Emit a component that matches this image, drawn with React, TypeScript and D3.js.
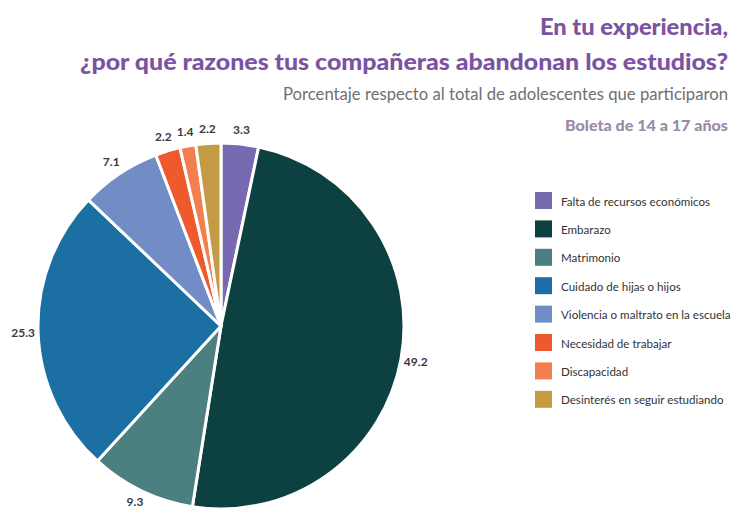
import { useEffect, useRef } from 'react'
import { select, pie, arc, PieArcDatum } from 'd3'

const categories = [
  'Falta de recursos económicos',
  'Embarazo',
  'Matrimonio',
  'Cuidado de hijas o hijos',
  'Violencia o maltrato en la escuela',
  'Necesidad de trabajar',
  'Discapacidad',
  'Desinterés en seguir estudiando',
]
const values = [3.3, 49.2, 9.3, 25.3, 7.1, 2.2, 1.4, 2.2]
const colors = ['#776ab0', '#0d4040', '#4c8080', '#1b6fa3', '#728dc6', '#ee5a2e', '#f47f4e', '#c59a45']

const titleLines = ['En tu experiencia,', '¿por qué razones tus compañeras abandonan los estudios?']
const subtitle = 'Porcentaje respecto al total de adolescentes que participaron'
const groupLabel = 'Boleta de 14 a 17 años'

interface Slice {
  name: string
  value: number
  color: string
}

const App = () => {
  const svgRef = useRef(null)

  useEffect(() => {
    const width = 738
    const height = 510
    const cx = 221
    const cy = 326
    const radius = 183
    const labelRadius = 198

    const svg = select(svgRef.current)
    svg.selectAll('*').remove()
    svg.attr('width', width).attr('height', height).attr('viewBox', [0, 0, width, height])

    const data: Slice[] = categories.map((name, i) => ({ name, value: values[i], color: colors[i] }))

    // pie starts at 12 o'clock and goes clockwise, in data order
    const layout = pie<Slice>().value((d) => d.value).sort(null)
    const arcs = layout(data)
    const arcGen = arc<PieArcDatum<Slice>>().innerRadius(0).outerRadius(radius)
    const labelArc = arc<PieArcDatum<Slice>>().innerRadius(labelRadius).outerRadius(labelRadius)

    const g = svg.append('g').attr('transform', `translate(${cx},${cy})`)
    g.selectAll('path')
      .data(arcs)
      .join('path')
      .attr('d', arcGen)
      .attr('fill', (d) => d.data.color)
      .attr('stroke', '#fff')
      .attr('stroke-width', 3)
      .attr('stroke-linejoin', 'round')

    // keep labels inside the picture's bottom edge
    const maxY = height - cy - 9
    g.selectAll('text.value')
      .data(arcs)
      .join('text')
      .attr('class', 'value')
      .attr('transform', (d) => {
        const [x, y] = labelArc.centroid(d)
        return `translate(${x},${Math.min(y, maxY)})`
      })
      .attr('text-anchor', 'middle')
      .attr('dominant-baseline', 'central')
      .attr('font-family', 'Lato, sans-serif')
      .attr('font-size', 12)
      .attr('font-weight', 'bold')
      .attr('fill', '#3a3a3a')
      .text((d) => d.data.value.toFixed(1))

    // titles
    const right = 728
    const title = (txt: string, y: number, size: number, weight: string | number, fill: string, len: number) =>
      svg
        .append('text')
        .attr('x', right)
        .attr('y', y)
        .attr('text-anchor', 'end')
        .attr('font-family', 'Lato, sans-serif')
        .attr('font-weight', weight)
        .attr('font-size', size)
        .attr('fill', fill)
        .attr('textLength', len)
        .attr('lengthAdjust', 'spacingAndGlyphs')
        .text(txt)

    title(titleLines[0], 35, 22, 900, '#7c52a2', 188)
    title(titleLines[1], 70, 22, 900, '#7c52a2', 648)
    title(subtitle, 100, 16.5, 'normal', '#707070', 445)
    title(groupLabel, 131, 15, 900, '#9a8ca7', 163)

    // legend
    const legend = svg.append('g').attr('transform', 'translate(535,192)')
    const rows = legend
      .selectAll('g')
      .data(data)
      .join('g')
      .attr('transform', (_, i) => `translate(0,${i * 28.4})`)
    rows
      .append('rect')
      .attr('width', 17)
      .attr('height', 17)
      .attr('fill', (d) => d.color)
    rows
      .append('text')
      .attr('x', 26)
      .attr('y', 9)
      .attr('dominant-baseline', 'central')
      .attr('font-family', 'Lato, sans-serif')
      .attr('font-size', 11.6)
      .attr('fill', '#333')
      .text((d) => d.name)
  }, [])

  return <svg ref={svgRef} style={{ position: 'absolute', left: 0, top: 0 }} />
}

export default App
